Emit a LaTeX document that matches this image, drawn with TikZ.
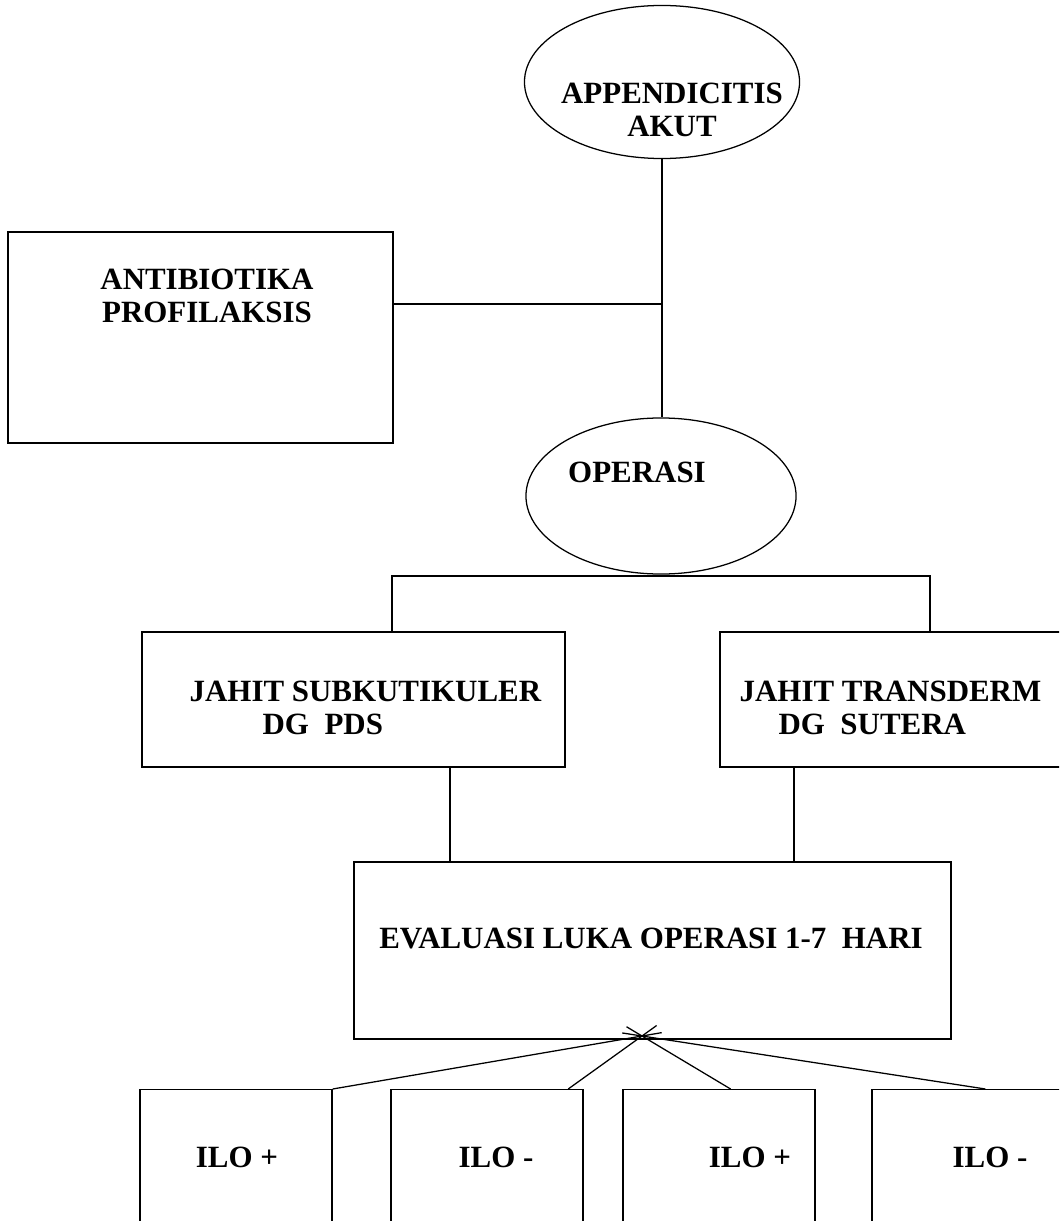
\documentclass[tikz,border=0pt]{standalone}
\usepackage{fontspec}
\setmainfont{Liberation Serif}
\usetikzlibrary{shapes.geometric}
\usetikzlibrary{calc}

\begin{document}
\begin{tikzpicture}[x=0.025cm, y=-0.025cm, line width=0.9pt,
    box/.style={draw, rectangle, inner sep=0pt},
    oval/.style={draw, ellipse, inner sep=0pt},
    lbl/.style={font=\bfseries\fontsize{22}{24}\selectfont, align=center, inner sep=0pt}]

        \useasboundingbox (0,0) rectangle (1059,1221);
        \clip (0,0) rectangle (1059,1221);
        \fill[white] (0,0) rectangle (1059,1221);

        % top part
        \node[oval, minimum width=6.875cm, minimum height=3.825cm] (appendix) at (662,82) {};
        \node[lbl] (appendixtxt) at (672,110) {APPENDICITIS\\AKUT};

        \node[box, minimum width=9.625cm, minimum height=5.275cm] (antib) at (200.5,337.5) {};
        \node[lbl] (antibtxt) at (207,296) {ANTIBIOTIKA\\PROFILAKSIS};

        \node[oval, minimum width=6.75cm, minimum height=3.9cm] (operasi) at (661,496) {};
        \node[lbl] (operasitxt) at (637,472) {OPERASI};

        % sutures
        \node[box, minimum width=10.575cm, minimum height=3.375cm] (subkut) at (353.5,699.5) {};
        \node[lbl, align=left, anchor=west] (subkuttxt) at (189,708) {JAHIT SUBKUTIKULER\\\hspace*{1.825cm}DG~~PDS};

        \node[box, minimum width=8.6cm, minimum height=3.375cm] (transd) at (892,699.5) {};
        \node[lbl, align=left, anchor=west] (transdtxt) at (739,708) {JAHIT TRANSDERM\\\hspace*{0.975cm}DG~~SUTERA};

        \node[box, minimum width=14.925cm, minimum height=4.425cm] (evalbox) at (652.5,950.5) {};
        \node[lbl] (evaltxt) at (651,938) {EVALUASI LUKA OPERASI 1-7~~HARI};

        % results
        \foreach \i/\x/\t/\sg in {1/236/237/+, 2/487/496/-, 3/719/750/+, 4/968/990/-} {
            \node[box, minimum width=4.8cm, minimum height=4.275cm, anchor=north] (ilo\i) at (\x,1089) {};
            \node[lbl] (ilotxt\i) at (\t,1157) {ILO \sg};
        }

        % connectors
        \coordinate (jn) at (662,304);
        \draw (appendix.south) -- (appendix.south |- operasi.north);
        \draw (antib.east |- jn) -- (jn);

        \coordinate (bl) at (392,576);
        \coordinate (br) at (930,576);
        \draw (bl |- subkut.north) -- (bl) -- (br) -- (br |- transd.north);

        \coordinate (dl) at (450,815);
        \coordinate (dr) at (794,815);
        \draw (dl |- subkut.south) -- (dl |- evalbox.north);
        \draw (dr |- transd.south) -- (dr |- evalbox.north);

        \coordinate (hub) at (642,1036);
        \draw[shorten <=-0.5cm] (hub) -- (ilo1.north east);
        \draw[shorten <=-0.45cm] (hub) -- ($(ilo2.north west)!0.92!(ilo2.north east)$);
        \draw[shorten <=-0.45cm] (hub) -- ($(ilo3.north west)!0.56!(ilo3.north east)$);
        \draw[shorten <=-0.5cm] (hub) -- ($(ilo4.north west)!0.59!(ilo4.north east)$);

\end{tikzpicture}
\end{document}
